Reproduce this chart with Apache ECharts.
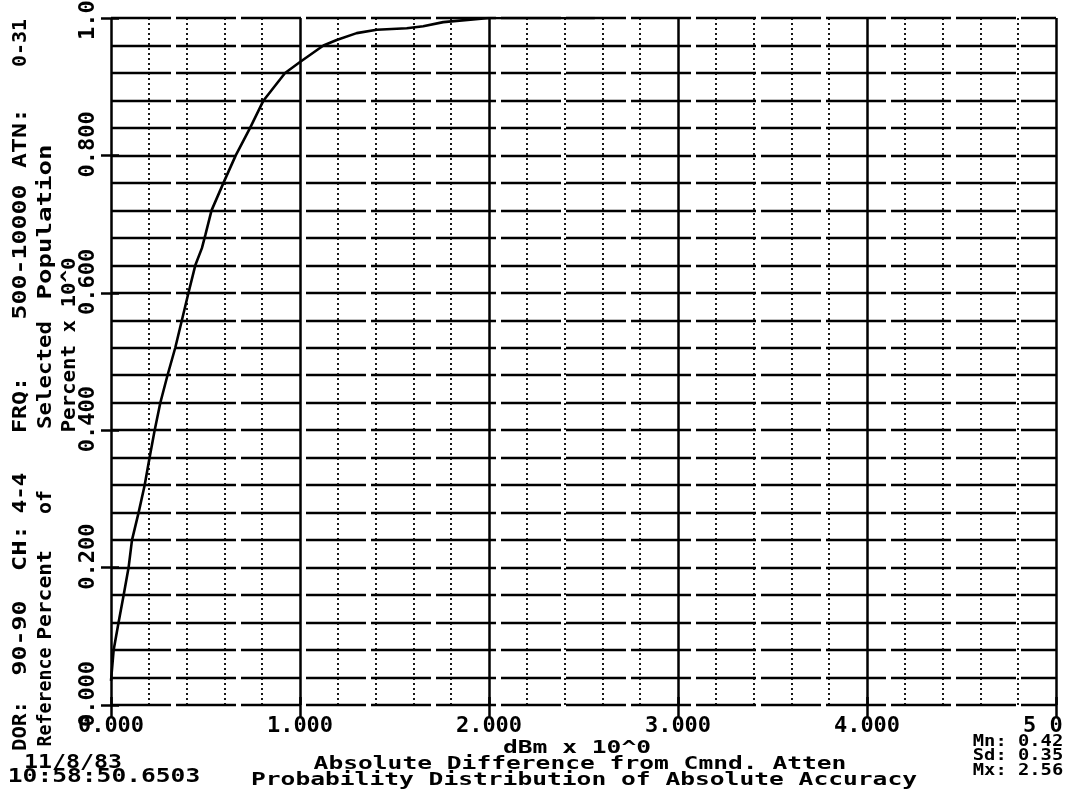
<!DOCTYPE html>
<html>
<head>
<meta charset="utf-8">
<script src="https://cdn.jsdelivr.net/npm/echarts@6/dist/echarts.min.js"></script>
<style>
  html, body { margin: 0; padding: 0; background: #ffffff; }
  #chart { width: 1070px; height: 798px; }
</style>
</head>
<body>
<div id="chart"></div>
<script>
// ---- data (cumulative distribution) ----
const diffDb = [0, 0.014, 0.04, 0.067, 0.093, 0.111, 0.146, 0.178, 0.204, 0.231, 0.261, 0.299, 0.34, 0.375, 0.41, 0.446, 0.481, 0.50, 0.532, 0.595, 0.66, 0.736, 0.807, 0.921, 1.0, 1.124, 1.194, 1.30, 1.406, 1.565, 1.652, 1.758, 1.916, 2.0, 2.56];
const fraction = [0.035, 0.08, 0.12, 0.16, 0.20, 0.24, 0.28, 0.32, 0.36, 0.40, 0.44, 0.48, 0.52, 0.56, 0.60, 0.64, 0.665, 0.685, 0.72, 0.76, 0.80, 0.84, 0.88, 0.92, 0.936, 0.96, 0.968, 0.978, 0.983, 0.985, 0.988, 0.994, 0.998, 1.0, 1.0];
const xTickLabels = ['0.000', '1.000', '2.000', '3.000', '4.000', '5 0'];
const yTickLabels = ['0.000', '0.200', '0.400', '0.600', '0.800', '1.000'];
const headerSegments = ['DOR:', '90-90', 'CH:', '4-4', 'FRQ:', '500-10000', 'ATN:', '0-31'];
const titleWords = ['Reference', 'Percent', 'of', 'Selected', 'Population'];
const yUnit = 'Percent x 10^0';
const xUnit = 'dBm x 10^0';
const xTitle = 'Absolute Difference from Cmnd. Atten';
const chartTitle = 'Probability Distribution of Absolute Accuracy';
const runDate = '11/8/83';
const runTime = '10:58:50.6503';
const stats = ['Mn: 0.42', 'Sd: 0.35', 'Mx: 2.56'];

const MONO = 'DejaVu Sans Mono';
const chart = echarts.init(document.getElementById('chart'), null, { renderer: 'canvas' });

function txt(text, x, y, size, pitch, rot) {
  const sx = pitch / (0.602 * size);
  return {
    type: 'text', x: x, y: y, rotation: rot || 0, scaleX: sx, scaleY: 1, z: 100,
    style: {
      text: text, font: 'bold ' + size + 'px "' + MONO + '"', fill: '#000',
      textAlign: 'center', textVerticalAlign: 'middle', align: 'center', verticalAlign: 'middle'
    }
  };
}

const R = Math.PI / 2;
const headerPos = [726, 638, 548, 493, 405, 252, 138, 43];
const headerPitch = [12.5, 15, 15.5, 13.5, 14, 15, 15, 12];
const titlePos = [697, 595, 502, 375, 222];
const titlePitch = [11, 12.8, 12, 13.5, 15.5];
const graphics = [];
headerSegments.forEach((s, i) => graphics.push(txt(s, 21, headerPos[i], 20, headerPitch[i], R)));
titleWords.forEach((s, i) => graphics.push(txt(s, 46, titlePos[i], 20, titlePitch[i], R)));
graphics.push(txt(yUnit, 70, 345, 19, 12.5, R));
graphics.push(txt(xUnit, 577, 748, 18, 14.8));
graphics.push(txt(xTitle, 580, 764, 18, 14.8));
graphics.push(txt(chartTitle, 584, 780, 18, 14.8));
graphics.push(txt(runDate, 73, 763, 19, 14));
graphics.push(txt(runTime, 104, 777, 19, 14.8));
const statY = [742, 756, 771];
stats.forEach((s, i) => graphics.push(txt(s, 1018, statY[i], 16, 11.3)));

const hLine = { color: '#000', width: 2.4, type: [60, 5] };

chart.setOption({
  backgroundColor: '#ffffff',
  animation: false,
  grid: { left: 111, right: 14, top: 18, bottom: 93, containLabel: false, outerBoundsMode: 'none' },
  xAxis: [{
    type: 'value', min: 0, max: 5, interval: 1, position: 'bottom',
    axisLine: { show: false },
    axisTick: { show: true, length: 13, lineStyle: { color: '#000', width: 2.5 } },
    minorTick: { show: false, splitNumber: 5 },
    axisLabel: {
      margin: 10, color: '#000', fontFamily: MONO, fontWeight: 'bold', fontSize: 22,
      formatter: v => {
        const i = Math.round(v);
        return i === 5 ? xTickLabels[i] + '  ' : xTickLabels[i];
      }
    },
    splitLine: { show: true, lineStyle: { color: '#000', width: 2.5, type: 'solid' } },
    minorSplitLine: { show: true, lineStyle: { color: '#000', width: 1.8, type: [2, 3] } }
  }, {
    type: 'value', min: 0, max: 5, interval: 1, position: 'top',
    axisLine: { show: false },
    axisTick: { show: true, length: 8, lineStyle: { color: '#000', width: 2.5 } },
    axisLabel: { show: false }, splitLine: { show: false }
  }],
  yAxis: [{
    type: 'value', min: 0, max: 1, interval: 0.2, position: 'left',
    axisLine: { show: false },
    axisTick: { show: true, length: 10, lineStyle: { color: '#000', width: 2.5 } },
    minorTick: { show: false, splitNumber: 5 },
    axisLabel: {
      rotate: 90, margin: 12, color: '#000', fontFamily: MONO, fontWeight: 'bold', fontSize: 22,
      padding: [0, 0, 0, 22],
      formatter: v => yTickLabels[Math.round(v * 5)]
    },
    splitLine: { show: true, lineStyle: hLine },
    minorSplitLine: { show: true, lineStyle: hLine }
  }, {
    type: 'value', min: 0, max: 1, interval: 0.2, position: 'right',
    axisLine: { show: false },
    axisTick: { show: true, length: 8, lineStyle: { color: '#000', width: 2.5 } },
    axisLabel: { show: false }, splitLine: { show: false }
  }],
  series: [{
    type: 'line',
    data: diffDb.map((x, i) => [x, fraction[i]]),
    showSymbol: false, symbol: 'none', smooth: false,
    lineStyle: { color: '#000', width: 2.6 },
    z: 10
  }],
  graphic: graphics
});
</script>
</body>
</html>
